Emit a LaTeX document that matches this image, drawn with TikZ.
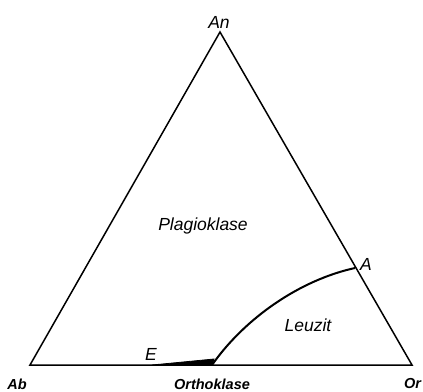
\documentclass[tikz,border=0pt]{standalone}
\usepackage{fontspec}
\setmainfont{Liberation Sans}
\begin{document}
\begin{tikzpicture}[x=1pt,y=-1pt,
  lbl/.style={font=\fontsize{17.5}{19}\selectfont\itshape, inner sep=0pt},
  blbl/.style={font=\fontsize{14.5}{16}\selectfont\itshape\bfseries, inner sep=0pt},
  edge/.style={line width=1.5pt, line join=miter},
  bound/.style={line width=2pt}]
\useasboundingbox (0,0) rectangle (423,391);
\coordinate (Ab) at (30,365);
\coordinate (Or) at (412,365);
\coordinate (An) at (220,32);
\coordinate (A) at (355,268);
\coordinate (B) at (212,365);
\coordinate (T) at (214,359);
\coordinate (Es) at (152,365);
\draw[edge] (Ab) -- (Or) -- (An) -- cycle;
\draw[bound] (B) .. controls (245,318) and (300,280) .. (A);
\fill (Es) -- (T) -- (B) -- cycle;
\draw[line width=0.8pt] (Es) -- (T) -- (B);
\node[lbl] (lAn) at (219,22) {An};
\node[blbl] (lAb) at (17,384) {Ab};
\node[blbl, anchor=west] (lOr) at (404,384) {Or};
\node[blbl] (lOk) at (212,384) {Orthoklase};
\node[lbl] (lE) at (151,354) {E};
\node[lbl] (lA) at (366,264) {A};
\node[lbl] (lPl) at (203,226) {Plagioklase};
\node[lbl] (lLe) at (308,325) {Leuzit};
\end{tikzpicture}
\end{document}
